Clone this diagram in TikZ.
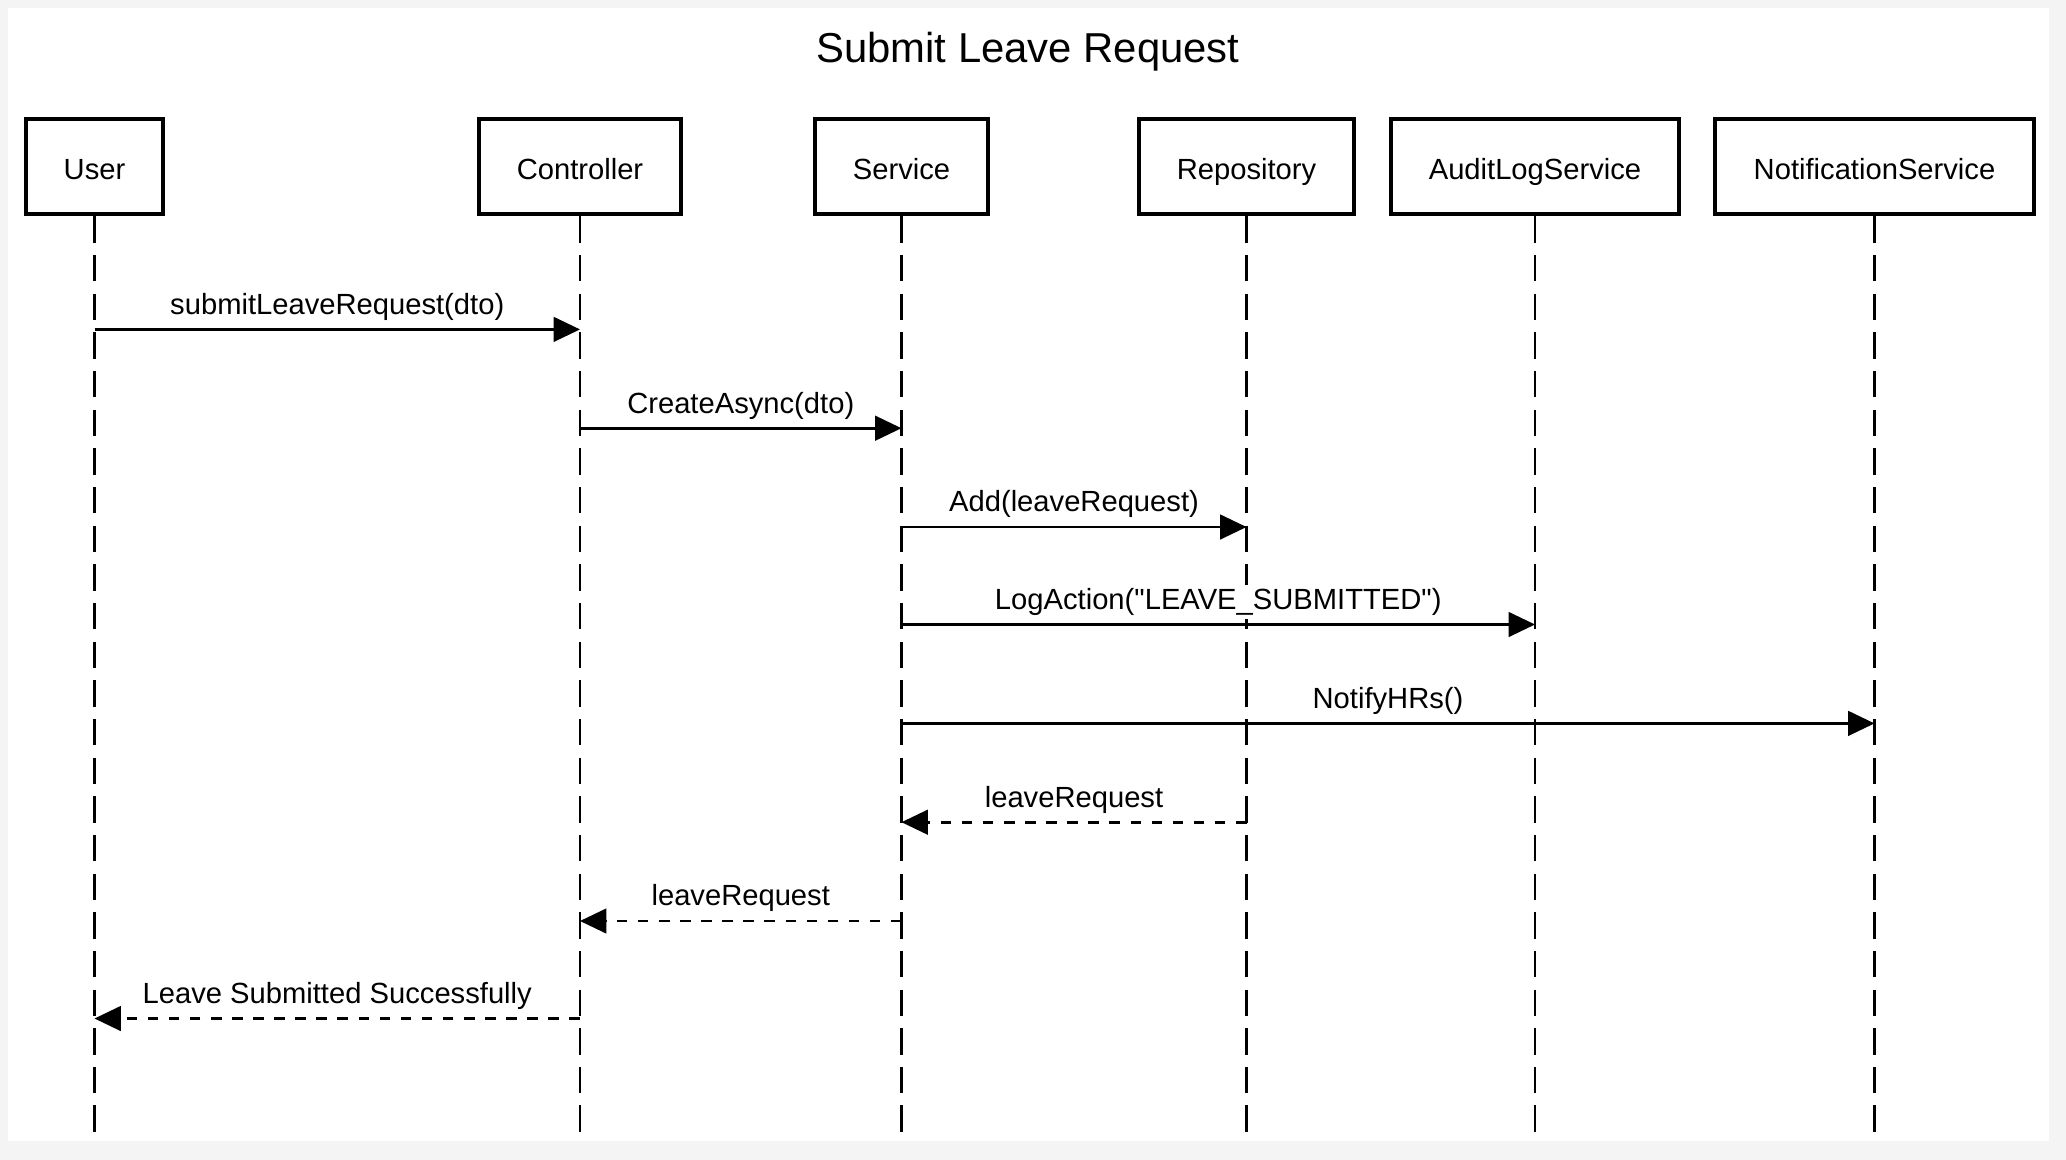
\documentclass[tikz,border=0pt]{standalone}
\usepackage{fontspec}
\setmainfont{Liberation Sans}[Ligatures=TeXOff]
\usetikzlibrary{arrows.meta}

\definecolor{pagegray}{HTML}{F4F4F4}

\tikzset{
    actor/.style={draw, line width=1.3pt, fill=white, inner sep=0pt,
        minimum height=0.95cm, text height=7.4pt, text depth=0pt,
        font=\fontsize{8.3}{10}\selectfont},
    lifeline/.style={line width=0.7pt, dash pattern=on 7.5pt off 3.5pt},
    call/.style={line width=0.75pt, -{Triangle[length=7.5pt, width=7pt]}},
    reply/.style={call, dash pattern=on 3pt off 3pt},
    msglabel/.style={midway, anchor=base, yshift=4.3pt, fill=white,
        inner sep=1pt, font=\fontsize{8.3}{10}\selectfont}
}

\begin{document}
\begin{tikzpicture}
        % Page
        \fill[pagegray] (0, 0) rectangle (20.66, -11.60);
        \fill[white] (0.08, -0.08) rectangle (20.49, -11.41);
        \node[anchor=base, font=\fontsize{11.9}{14}\selectfont] (title) at (10.28, -0.62) {Submit Leave Request};

        % Participants
        \node[actor, minimum width=1.37cm] (user) at (0.945, -1.665) {User};
        \node[actor, minimum width=2.02cm] (ctrl) at (5.80, -1.665) {Controller};
        \node[actor, minimum width=1.73cm] (svc) at (9.015, -1.665) {Service};
        \node[actor, minimum width=2.15cm] (repo) at (12.465, -1.665) {Repository};
        \node[actor, minimum width=2.88cm] (audit) at (15.35, -1.665) {AuditLogService};
        \node[actor, minimum width=3.19cm] (notif) at (18.745, -1.665) {NotificationService};

        % Lifelines
        \coordinate (bottom) at (0, -11.33);
        \foreach \p in {user, ctrl, svc, repo, audit, notif}
            \draw[lifeline] (\p.south) -- (\p.south |- bottom);

        % Message rows
        \coordinate (m1) at (0, -3.294);
        \coordinate (m2) at (0, -4.282);
        \coordinate (m3) at (0, -5.270);
        \coordinate (m4) at (0, -6.245);
        \coordinate (m5) at (0, -7.234);
        \coordinate (m6) at (0, -8.222);
        \coordinate (m7) at (0, -9.210);
        \coordinate (m8) at (0, -10.185);

        % Calls
        \draw[call] (user |- m1) -- (ctrl |- m1) node[msglabel] {submitLeaveRequest(dto)};
        \draw[call] (ctrl |- m2) -- (svc |- m2) node[msglabel] {CreateAsync(dto)};
        \draw[call] (svc |- m3) -- (repo |- m3) node[msglabel] {Add(leaveRequest)};
        \draw[call] (svc |- m4) -- (audit |- m4) node[msglabel] {LogAction("LEAVE\_SUBMITTED")};
        \draw[call] (svc |- m5) -- (notif |- m5) node[msglabel] {NotifyHRs()};

        % Replies
        \draw[reply] (repo |- m6) -- (svc |- m6) node[msglabel] {leaveRequest};
        \draw[reply] (svc |- m7) -- (ctrl |- m7) node[msglabel] {leaveRequest};
        \draw[reply] (ctrl |- m8) -- (user |- m8) node[msglabel] {Leave Submitted Successfully};
    \end{tikzpicture}
\end{document}
